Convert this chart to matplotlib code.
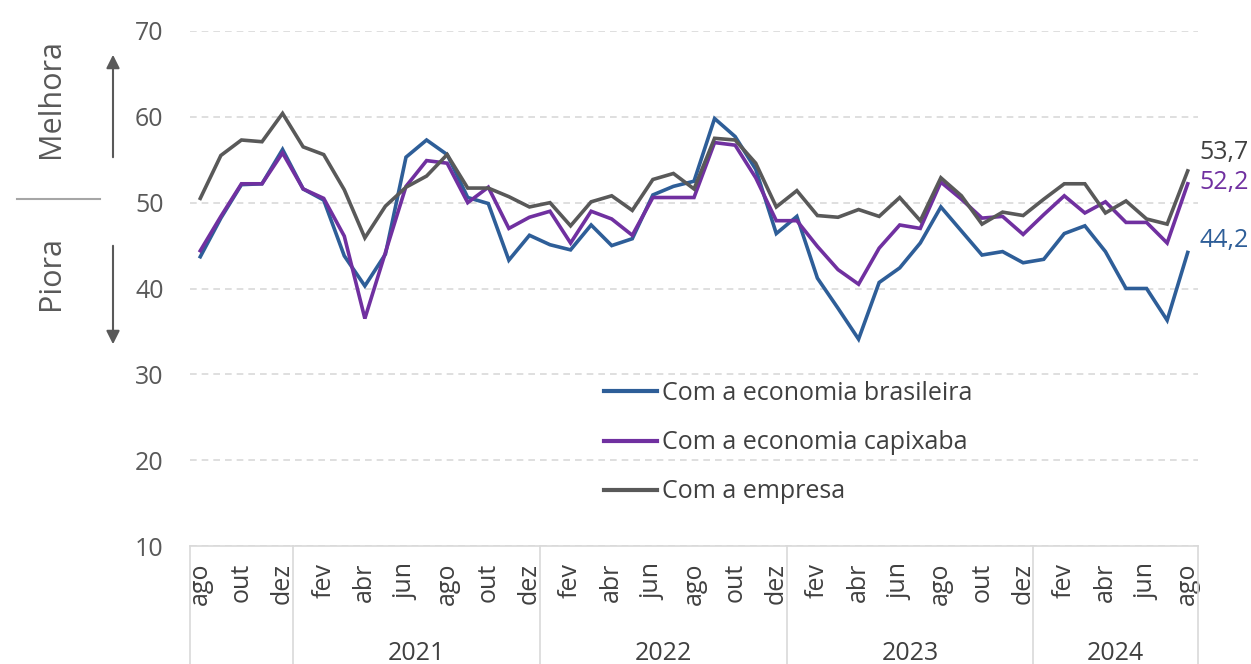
import matplotlib
matplotlib.use("Agg")
import matplotlib.pyplot as plt
import matplotlib.transforms as mtransforms

plt.rcParams['font.family'] = ['Open Sans', 'DejaVu Sans']

months = ["ago", "set", "out", "nov", "dez",
          "jan", "fev", "mar", "abr", "mai", "jun", "jul", "ago", "set", "out", "nov", "dez",
          "jan", "fev", "mar", "abr", "mai", "jun", "jul", "ago", "set", "out", "nov", "dez",
          "jan", "fev", "mar", "abr", "mai", "jun", "jul", "ago", "set", "out", "nov", "dez",
          "jan", "fev", "mar", "abr", "mai", "jun", "jul", "ago"]
years = ["", "2021", "2022", "2023", "2024"]

brasileira = [43.7, 48.2, 52.1, 52.2, 56.2, 51.6, 50.3, 43.8, 40.3, 44.0, 55.3, 57.3, 55.6, 50.6, 49.9, 43.3, 46.2,
              45.1, 44.5, 47.4, 45.0, 45.8, 50.9, 51.9, 52.5, 59.8, 57.7, 53.9, 46.4, 48.4, 41.2, 37.7, 34.1,
              40.7, 42.4, 45.3, 49.5, 46.7, 43.9, 44.3, 43.0, 43.4, 46.4, 47.3, 44.3, 40.0, 40.0, 36.3, 44.2]
capixaba = [44.4, 48.4, 52.2, 52.2, 55.8, 51.6, 50.5, 46.1, 36.5, 44.2, 51.9, 54.9, 54.6, 50.0, 51.8, 47.0, 48.3,
            49.0, 45.3, 49.0, 48.1, 46.2, 50.6, 50.6, 50.6, 57.0, 56.7, 52.9, 47.9, 47.9, 44.9, 42.2, 40.5,
            44.7, 47.4, 47.0, 52.4, 50.4, 48.2, 48.4, 46.3, 48.6, 50.8, 48.8, 50.1, 47.7, 47.7, 45.3, 52.2]
empresa = [50.5, 55.5, 57.3, 57.1, 60.4, 56.5, 55.6, 51.5, 45.9, 49.6, 51.8, 53.1, 55.6, 51.7, 51.7, 50.7, 49.5,
           50.0, 47.3, 50.1, 50.8, 49.1, 52.7, 53.4, 51.6, 57.5, 57.3, 54.6, 49.5, 51.4, 48.5, 48.3, 49.2,
           48.4, 50.6, 47.9, 52.9, 50.8, 47.5, 48.9, 48.5, 50.4, 52.2, 52.2, 48.8, 50.2, 48.1, 47.5, 53.7]

series_names = ["Com a economia brasileira", "Com a economia capixaba", "Com a empresa"]
colors = ["#2E5E98", "#7030A0", "#595959"]

FS = 18

fig = plt.figure(figsize=(12.51, 6.64), dpi=100)
ax = fig.add_axes([190/1251, (664-546)/664, 1008/1251, 515/664])

x = list(range(len(months)))
for data, name, c in zip([brasileira, capixaba, empresa], series_names, colors):
    ax.plot(x, data, color=c, lw=2.6, label=name, solid_joinstyle='miter')

ax.set_xlim(-0.5, len(months) - 0.5)
ax.set_ylim(10, 70)
ax.set_yticks(range(10, 71, 10))
ax.tick_params(axis='y', length=0, labelsize=FS, labelcolor='#595959', pad=19)
ax.yaxis.grid(True, color='#D9D9D9', linestyle=(0, (4, 3)), lw=1.2)
ax.set_axisbelow(True)
for s in ['top', 'right', 'left']:
    ax.spines[s].set_visible(False)
ax.spines['bottom'].set_color('#D9D9D9')
ax.spines['bottom'].set_linewidth(1.2)

ax.set_xticks(x[::2])
ax.set_xticklabels(months[::2], rotation=90, fontsize=FS, color='#404040')
ax.tick_params(axis='x', length=0, pad=12)

# group separators and year labels
trans = mtransforms.blended_transform_factory(ax.transData, ax.transAxes)
bottom_ext = -(664 - 546) / 515
bounds = [-0.5, 4.5, 16.5, 28.5, 40.5, 48.5]
for b in bounds:
    ax.plot([b, b], [0, bottom_ext], transform=trans, color='#D9D9D9', lw=1.2, clip_on=False)
for i, yr in enumerate(years):
    if yr:
        ax.text((bounds[i] + bounds[i + 1]) / 2, -(653 - 546) / 515, yr, transform=trans,
                ha='center', va='center', fontsize=FS, color='#404040')

# end labels
ax.annotate("53,7", xy=(48, empresa[-1]), xytext=(1224, 664-152), textcoords='figure pixels',
            ha='center', va='center', fontsize=FS, color='#404040')
ax.annotate("52,2", xy=(48, capixaba[-1]), xytext=(1224, 664-183), textcoords='figure pixels',
            ha='center', va='center', fontsize=FS, color='#7030A0')
ax.annotate("44,2", xy=(48, brasileira[-1]), xytext=(1224, 664-240), textcoords='figure pixels',
            ha='center', va='center', fontsize=FS, color='#2E5E98')

leg = ax.legend(loc='upper left', bbox_to_anchor=(604/1251, (664-381)/664), bbox_transform=fig.transFigure,
                frameon=False, fontsize=FS, handlelength=2.1, handletextpad=0.2, labelspacing=0.97,
                borderpad=0, borderaxespad=0, labelcolor='#404040')
for line in leg.get_lines():
    line.set_linewidth(3)

# left annotations
fig.text(51/1251, 1 - 99/664, "Melhora", rotation=90, ha='center', va='center', fontsize=22, color='#595959')
fig.text(51/1251, 1 - 273/664, "Piora", rotation=90, ha='center', va='center', fontsize=22, color='#595959')
fig.add_artist(plt.Line2D([17/1251, 100/1251], [1 - 199/664, 1 - 199/664], color='#A6A6A6', lw=1.5))
ax.annotate("", xy=(113, 664 - 52), xytext=(113, 664 - 160), xycoords='figure pixels', textcoords='figure pixels',
            arrowprops=dict(arrowstyle='-|>', color='#595959', lw=1.5, mutation_scale=20))
ax.annotate("", xy=(113, 664 - 347), xytext=(113, 664 - 243), xycoords='figure pixels', textcoords='figure pixels',
            arrowprops=dict(arrowstyle='-|>', color='#595959', lw=1.5, mutation_scale=20))

fig.savefig("out.png", dpi=100)
